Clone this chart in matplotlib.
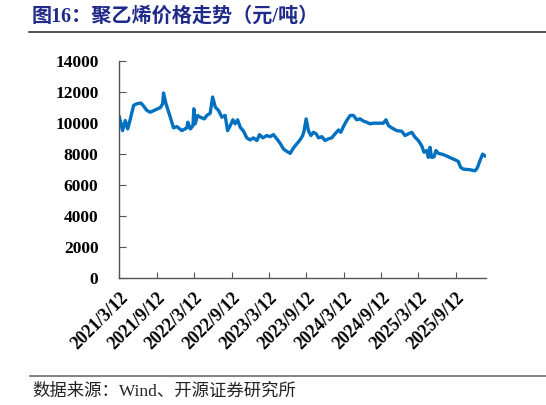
import matplotlib
matplotlib.use('Agg')
import matplotlib.pyplot as plt
import pandas as pd

# polyethylene price, yuan/ton (days after 2021-03-12)
start_date = '2021-03-12'
days = [0, 16, 29, 41, 54, 70, 86, 106, 116, 135,
        151, 176, 200, 212, 216, 228, 249, 265, 281, 306,
        330, 335, 347, 360, 364, 371, 382, 395, 415, 428,
        444, 456, 469, 485, 501, 517, 529, 542, 555, 566,
        578, 591, 607, 623, 639, 656, 672, 685, 701, 721,
        737, 753, 766, 786, 802, 818, 835, 851, 867, 883,
        896, 903, 913, 924, 936, 949, 962, 973, 989, 1005,
        1022, 1038, 1054, 1071, 1082, 1095, 1111, 1128, 1144, 1160,
        1176, 1193, 1209, 1225, 1241, 1266, 1290, 1303, 1315, 1331,
        1355, 1380, 1396, 1412, 1429, 1445, 1461, 1477, 1489, 1502,
        1510, 1518, 1526, 1538, 1547, 1559, 1583, 1607, 1632, 1656,
        1668, 1681, 1713, 1738, 1749, 1762, 1775, 1786]
prices = [10400, 9510, 10160, 9620, 10270, 11140, 11250, 11290, 11140, 10810,
          10700, 10850, 10990, 11250, 11940, 11250, 10380, 9690, 9770, 9510,
          9690, 10050, 9620, 9830, 10920, 9950, 10490, 10380, 10270, 10490,
          10630, 11680, 11030, 10810, 10380, 10490, 9510, 9830, 10210, 9950,
          10210, 9730, 9470, 9040, 8910, 9040, 8870, 9250, 9040, 9190,
          9120, 9250, 9040, 8690, 8320, 8170, 8040, 8390, 8650, 8910,
          9190, 9510, 10270, 9510, 9190, 9400, 9300, 9040, 9120, 8870,
          8980, 9040, 9300, 9550, 9400, 9770, 10160, 10490, 10490, 10210,
          10270, 10120, 10050, 9950, 9990, 9990, 9990, 10210, 9830, 9690,
          9510, 9470, 9190, 9300, 9400, 9080, 8870, 8540, 8110, 8220,
          7780, 8430, 7780, 7820, 8220, 8040, 7960, 7820, 7670, 7520,
          7130, 7020, 6980, 6910, 7090, 7560, 7990, 7880]

tick_labels = ['2021/3/12', '2021/9/12', '2022/3/12', '2022/9/12', '2023/3/12',
               '2023/9/12', '2024/3/12', '2024/9/12', '2025/3/12', '2025/9/12']
y_ticks = [0, 2000, 4000, 6000, 8000, 10000, 12000, 14000]

title = '图16：聚乙烯价格走势（元/吨）'
source = '数据来源：Wind、开源证券研究所'

serif_cjk = ['Liberation Serif', 'Noto Sans CJK SC']

t0 = pd.Timestamp(start_date)
dates = t0 + pd.to_timedelta(days, unit='D')
tick_dates = pd.to_datetime(tick_labels, format='%Y/%m/%d')

fig = plt.figure(figsize=(5.46, 4.05), dpi=100)
ax = fig.add_axes([0.2185, 0.3143, 0.891 - 0.2185, 0.849 - 0.3143])

ax.plot(dates, prices, color='#0070C0', linewidth=2.4, solid_joinstyle='round')

ax.set_ylim(0, 14000)
ax.set_xlim(t0, t0 + pd.Timedelta(days=1794))
ax.set_yticks(y_ticks)
ax.set_yticklabels([str(v) for v in y_ticks], fontfamily='Liberation Serif',
                   fontweight='bold', fontsize=12.5)
ax.set_xticks(tick_dates)
ax.set_xticklabels(tick_labels, rotation=45, ha='right', va='top',
                   rotation_mode='anchor', fontfamily='Liberation Serif',
                   fontweight='bold', fontsize=13)

for side in ['top', 'right']:
    ax.spines[side].set_visible(False)
for side in ['left', 'bottom']:
    ax.spines[side].set_color('#555555')
    ax.spines[side].set_linewidth(1.0)
ax.tick_params(axis='y', direction='in', length=5, color='#555555', pad=15)
ax.tick_params(axis='x', direction='in', length=4, color='#555555', pad=8)

# header and footer
fig.text(0.0586, 0.958, title, ha='left', va='center', fontsize=14.5,
         fontweight='bold', color='#1F2A8A', family=serif_cjk)
fig.add_artist(plt.Line2D([29 / 546, 1.0], [1 - 31.7 / 405] * 2,
                          color='#222222', linewidth=1.1))
fig.add_artist(plt.Line2D([30 / 546, 1.0], [1 - 375.7 / 405] * 2,
                          color='#777777', linewidth=1.3))
fig.text(0.0586, 1 - 392 / 405, source, ha='left', va='center', fontsize=12.5,
         color='#222222', family=serif_cjk)

fig.savefig('out.png', dpi=100)
